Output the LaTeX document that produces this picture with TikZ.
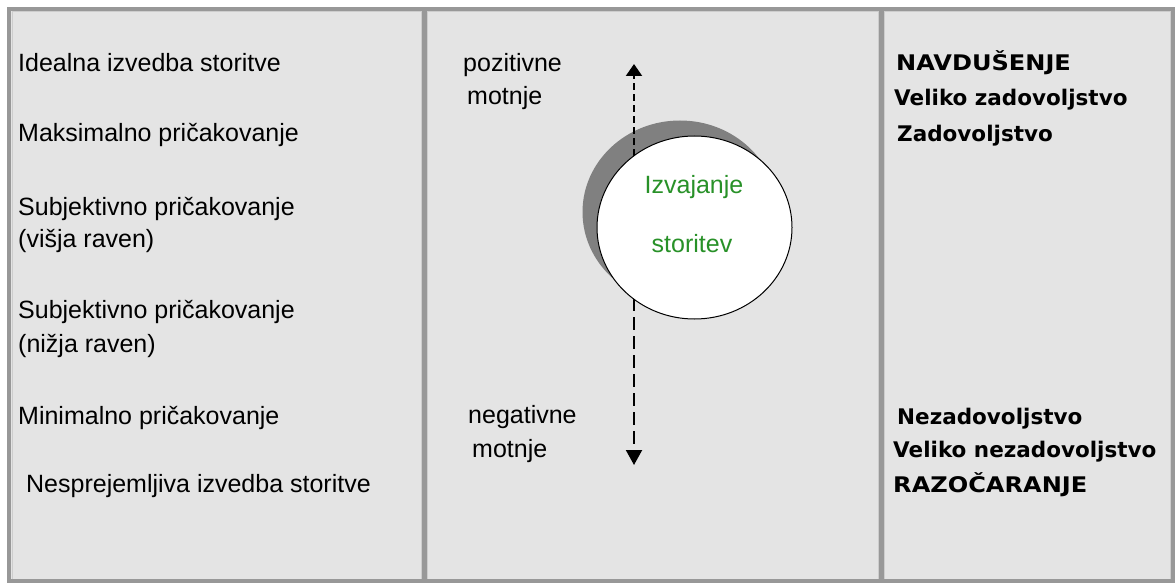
\documentclass[tikz,border=0pt]{standalone}
\usepackage{graphicx}
\usepackage{fontspec}
\setmainfont{Liberation Sans}
\newfontfamily\heavy{DejaVu Sans}
\usetikzlibrary{arrows.meta,shapes.geometric}
\definecolor{panel}{RGB}{228,228,228}
\definecolor{rule}{RGB}{152,152,152}
\definecolor{edge}{RGB}{205,205,205}
\definecolor{shade}{RGB}{128,128,128}
\definecolor{leaf}{RGB}{40,145,40}
% wide capitals for the headline reactions
\newcommand{\widecaps}[1]{\scalebox{1.12}[1]{#1}}
\begin{document}
\begin{tikzpicture}[x=1pt,y=-1pt,
  txt/.style={anchor=base west,inner sep=0pt,font=\fontsize{25}{30}\selectfont},
  hdr/.style={anchor=base west,inner sep=0pt,font=\heavy\bfseries\fontsize{21.5}{26}\selectfont},
  inside/.style={anchor=base,inner sep=0pt,text=leaf,font=\fontsize{25}{30}\selectfont},
  oval/.style={ellipse,inner sep=0pt,minimum width=195pt,minimum height=183pt},
  upline/.style={line width=2pt,dash pattern=on 7pt off 4pt,-{Triangle[width=16pt,length=12pt]}},
  downline/.style={line width=2pt,dash pattern=on 13pt off 6pt,-{Triangle[width=16pt,length=15pt]}}]
\useasboundingbox (0,0) rectangle (1175,583);

% panel and column frames
\fill[panel] (7,7) rectangle (1175,583);
\draw[edge,line width=1pt] (12,12) rectangle (421,579);
\draw[edge,line width=1pt] (427,12) rectangle (878,579);
\draw[edge,line width=1pt] (884,12) rectangle (1170,579);
\draw[rule,line width=4.5pt] (9,9) rectangle (1173,581);
\draw[rule,line width=5pt] (424,9) -- (424,581);
\draw[rule,line width=5pt] (881,9) -- (881,581);

% left column: levels of expectation
\node[txt] (l1) at (18,71.7) {Idealna izvedba storitve};
\node[txt] (l2) at (18,141.7) {Maksimalno pričakovanje};
\node[txt] (l3) at (18,215) {Subjektivno pričakovanje};
\node[txt] (l3b) at (18,247) {(višja raven)};
\node[txt] (l4) at (18,318) {Subjektivno pričakovanje};
\node[txt] (l4b) at (18,352) {(nižja raven)};
\node[txt] (l5) at (18,424.3) {Minimalno pričakovanje};
\node[txt] (l6) at (26,492.7) {Nesprejemljiva izvedba storitve};

% middle column
\node[txt] (m1) at (463,71.7) {pozitivne};
\node[txt] (m1b) at (467,105) {motnje};
\node[txt] (m2) at (468,423.5) {negativne};
\node[txt] (m2b) at (472,457.7) {motnje};

\node[oval,fill=shade] (shadow) at (680,212) {};
\coordinate (upstart) at (634,200);
\coordinate (uptip) at (634,64);
\coordinate (downstart) at (634,260);
\coordinate (downtip) at (634,465);
\draw[upline] (upstart) -- (uptip);
\draw[downline] (downstart) -- (downtip);
\node[oval,draw=black,line width=1pt,fill=white] (perf) at (694.5,227.5) {};
\node[inside] (p1) at (694,193) {Izvajanje};
\node[inside] (p2) at (692,252) {storitev};

% right column: customer reaction
\node[hdr] (r1) at (896,70.7) {\widecaps{NAVDUŠENJE}};
\node[hdr] (r2) at (894,105.7) {Veliko zadovoljstvo};
\node[hdr] (r3) at (897,141.7) {Zadovoljstvo};
\node[hdr] (r4) at (897,424.3) {Nezadovoljstvo};
\node[hdr] (r5) at (893,457.7) {Veliko nezadovoljstvo};
\node[hdr] (r6) at (893,492.7) {\widecaps{RAZOČARANJE}};
\end{tikzpicture}
\end{document}
